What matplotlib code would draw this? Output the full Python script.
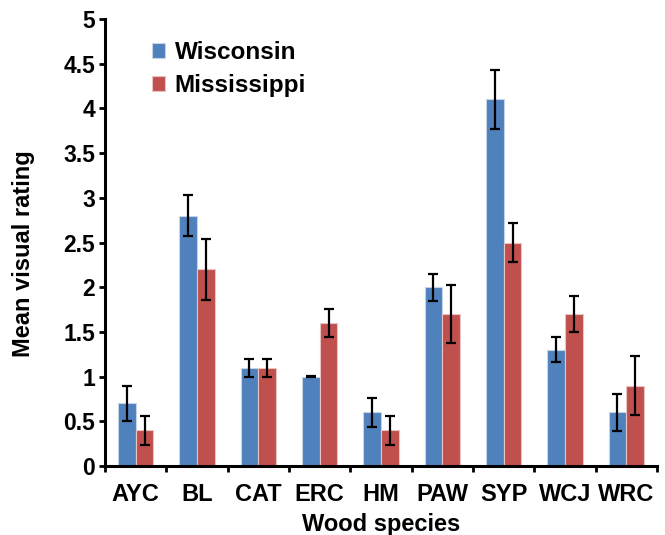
import matplotlib
matplotlib.use('Agg')
import matplotlib.pyplot as plt
import numpy as np

plt.rcParams['font.family'] = ['Liberation Sans', 'DejaVu Sans']
plt.rcParams['font.weight'] = 'bold'

species = ['AYC', 'BL', 'CAT', 'ERC', 'HM', 'PAW', 'SYP', 'WCJ', 'WRC']
wisconsin = [0.7, 2.8, 1.1, 1.0, 0.6, 2.0, 4.1, 1.3, 0.6]
wisconsin_err = [0.2, 0.23, 0.1, 0.005, 0.16, 0.15, 0.33, 0.14, 0.21]
mississippi = [0.4, 2.2, 1.1, 1.6, 0.4, 1.7, 2.5, 1.7, 0.9]
mississippi_err = [0.16, 0.34, 0.1, 0.16, 0.16, 0.32, 0.22, 0.2, 0.33]

fig = plt.figure(figsize=(6.65, 5.35), dpi=100)
ax = fig.add_axes([105/665, 69/535, 552/665, 447/535])

x = np.arange(len(species))
w = 0.29
errkw = dict(ecolor='black', elinewidth=1.6, capsize=3.6, capthick=1.6)
ax.bar(x - w/2, wisconsin, w, yerr=wisconsin_err, color='#4F81BD',
       edgecolor='#C6D4E8', linewidth=0.8, label='Wisconsin', error_kw=errkw)
ax.bar(x + w/2, mississippi, w, yerr=mississippi_err, color='#C0504D',
       edgecolor='#E8C4C3', linewidth=0.8, label='Mississippi', error_kw=errkw)

ax.set_xlim(-0.5, len(species) - 0.5)
ax.set_ylim(0, 5)
ax.set_yticks(np.arange(0, 5.01, 0.5))
ax.set_yticklabels(['0', '0.5', '1', '1.5', '2', '2.5', '3', '3.5', '4', '4.5', '5'])

# category labels centred, tick marks on the group boundaries
ax.set_xticks(x)
ax.set_xticklabels(species)
ax.set_xticks(np.arange(-0.5, len(species), 1), minor=True)
ax.tick_params(axis='x', which='major', length=0, pad=12, labelsize=17)
ax.tick_params(axis='x', which='minor', length=4, width=2)
ax.tick_params(axis='y', length=4, width=2, labelsize=16.5, pad=3)

for side in ['top', 'right']:
    ax.spines[side].set_visible(False)
for side in ['left', 'bottom']:
    ax.spines[side].set_linewidth(2.2)

ax.set_xlabel('Wood species', fontsize=17, fontweight='bold', labelpad=5)
ax.set_ylabel('Mean visual rating', fontsize=17, fontweight='bold')
ax.yaxis.set_label_coords(-0.127, 0.475)

ax.legend(loc='upper left', bbox_to_anchor=(0.045, 1.0), frameon=False,
          prop={'size': 17.5, 'weight': 'bold'}, handlelength=0.55,
          handleheight=0.55, labelspacing=0.42, handletextpad=0.4)

fig.savefig('out.png', dpi=100)
